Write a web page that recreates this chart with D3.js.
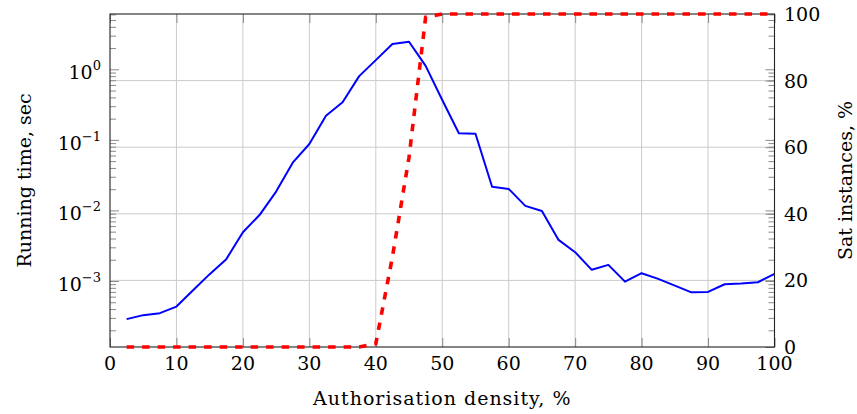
<!DOCTYPE html>
<html>
<head>
<meta charset="utf-8">
<script src="https://cdn.jsdelivr.net/npm/d3@7"></script>
<style>
  body { margin: 0; background: #fff; }
</style>
</head>
<body>
<div id="chart"></div>
<script>
const density = [2.5, 5, 7.5, 10, 12.5, 15, 17.5, 20, 22.5, 25, 27.5, 30, 32.5, 35, 37.5, 40,
  42.5, 45, 47.5, 50, 52.5, 55, 57.5, 60, 62.5, 65, 67.5, 70, 72.5, 75, 77.5, 80,
  82.5, 85, 87.5, 90, 92.5, 95, 97.5, 100];

// running time, sec (left, log)
const runTime = [2.88e-4, 3.28e-4, 3.5e-4, 4.34e-4, 7.4e-4, 1.25e-3, 2.04e-3, 4.91e-3,
  8.6e-3, 0.0185, 0.0475, 0.0875, 0.22, 0.341, 0.8, 1.35,
  2.28, 2.46, 1.12, 0.367, 0.124, 0.122, 0.0217, 0.0202,
  0.0116, 9.8e-3, 3.82e-3, 2.56e-3, 1.44e-3, 1.69e-3, 9.8e-4, 1.29e-3,
  1.07e-3, 8.6e-4, 6.9e-4, 7.0e-4, 9.0e-4, 9.2e-4, 9.6e-4, 1.26e-3];

// sat instances, % (right)
const satPct = [0, 0, 0, 0, 0, 0, 0, 0, 0, 0, 0, 0, 0, 0, 0, 1,
  27, 57, 99, 100, 100, 100, 100, 100, 100, 100, 100, 100, 100, 100, 100, 100,
  100, 100, 100, 100, 100, 100, 100, 100];

const xTicks = [0, 10, 20, 30, 40, 50, 60, 70, 80, 90, 100];
const logExponents = [-3, -2, -1, 0];
const rightTicks = [0, 20, 40, 60, 80, 100];

const width = 857;
const height = 414;
const plotL = 110, plotR = 774.5, plotT = 14, plotB = 347;
const serif = "'DejaVu Serif', 'Liberation Serif', serif";

const svg = d3.select("#chart")
  .append("svg")
  .attr("width", width)
  .attr("height", height)
  .style("font-family", serif);

const x = d3.scaleLinear().domain([0, 100]).range([plotL, plotR]);
const yLog = d3.scaleLog().domain([1.16e-4, 6.08]).range([plotB, plotT]);
const yPct = d3.scaleLinear().domain([0, 100]).range([plotB, plotT]);

const majorLog = logExponents.map(e => Math.pow(10, e));
const minorLog = yLog.ticks().filter(v => Math.abs(Math.log10(v) - Math.round(Math.log10(v))) > 1e-6);

// grid
const grid = svg.append("g").attr("stroke", "#cbcbcb").attr("stroke-width", 1);
grid.selectAll(".gx")
  .data(xTicks.slice(1, -1))
  .enter()
  .append("line")
  .attr("x1", d => x(d)).attr("x2", d => x(d))
  .attr("y1", plotT).attr("y2", plotB);
grid.selectAll(".gy")
  .data(rightTicks.slice(1, -1))
  .enter()
  .append("line")
  .attr("x1", plotL).attr("x2", plotR)
  .attr("y1", d => yPct(d)).attr("y2", d => yPct(d));

// ticks (inward, gray)
function tickStyle(g) {
  g.select(".domain").remove();
  g.selectAll(".tick line").attr("stroke", "#8a8a8a").attr("stroke-width", 1);
  g.selectAll(".tick text").remove();
}
svg.append("g").attr("transform", `translate(0,${plotB})`)
  .call(d3.axisTop(x).tickValues(xTicks).tickSize(9)).call(tickStyle);
svg.append("g").attr("transform", `translate(0,${plotT})`)
  .call(d3.axisBottom(x).tickValues(xTicks).tickSize(9)).call(tickStyle);
svg.append("g").attr("transform", `translate(${plotL},0)`)
  .call(d3.axisRight(yLog).tickValues(majorLog).tickSize(9)).call(tickStyle);
svg.append("g").attr("transform", `translate(${plotL},0)`)
  .call(d3.axisRight(yLog).tickValues(minorLog).tickSize(6)).call(tickStyle);
svg.append("g").attr("transform", `translate(${plotR},0)`)
  .call(d3.axisLeft(yLog).tickValues(majorLog).tickSize(9)).call(tickStyle);
svg.append("g").attr("transform", `translate(${plotR},0)`)
  .call(d3.axisLeft(yLog).tickValues(minorLog).tickSize(6)).call(tickStyle);
svg.append("g").attr("transform", `translate(${plotR},0)`)
  .call(d3.axisLeft(yPct).tickValues(rightTicks).tickSize(9)).call(tickStyle);

// running time line
const timeLine = d3.line()
  .x((d, i) => x(density[i]))
  .y(d => yLog(d));
svg.append("path")
  .datum(runTime)
  .attr("d", timeLine)
  .attr("fill", "none")
  .attr("stroke", "#0000ff")
  .attr("stroke-width", 2)
  .attr("stroke-linejoin", "round");

// frame
svg.append("rect")
  .attr("x", plotL).attr("y", plotT)
  .attr("width", plotR - plotL).attr("height", plotB - plotT)
  .attr("fill", "none")
  .attr("stroke", "#222")
  .attr("stroke-width", 1.1);

// sat line
const satLine = d3.line()
  .x((d, i) => x(density[i]))
  .y(d => yPct(d));
svg.append("path")
  .datum(satPct)
  .attr("d", satLine)
  .attr("fill", "none")
  .attr("stroke", "#ff0000")
  .attr("stroke-width", 3.6)
  .attr("stroke-dasharray", "7.5,8");

// tick labels
svg.append("g")
  .selectAll("text")
  .data(xTicks)
  .enter()
  .append("text")
  .attr("x", d => x(d))
  .attr("y", 370)
  .attr("text-anchor", "middle")
  .style("font-size", "19px")
  .text(d => d);

const logLabels = svg.append("g")
  .selectAll("text")
  .data(logExponents)
  .enter()
  .append("text")
  .attr("x", 101)
  .attr("y", d => yLog(Math.pow(10, d)) + 10)
  .attr("text-anchor", "end")
  .style("font-size", "19px");
logLabels.append("tspan").text("10");
logLabels.append("tspan")
  .attr("dy", -9)
  .style("font-size", "13px")
  .text(d => String(d).replace("-", "\u2212"));

svg.append("g")
  .selectAll("text")
  .data(rightTicks)
  .enter()
  .append("text")
  .attr("x", 784)
  .attr("y", d => yPct(d) + 7)
  .style("font-size", "19px")
  .text(d => d);

// axis labels
svg.append("text")
  .attr("x", (plotL + plotR) / 2)
  .attr("y", 405)
  .attr("text-anchor", "middle")
  .style("font-size", "19px")
  .style("letter-spacing", "1px")
  .text("Authorisation density, %");

svg.append("text")
  .attr("transform", `translate(31,${(plotT + plotB) / 2}) rotate(-90)`)
  .attr("text-anchor", "middle")
  .style("font-size", "19px")
  .text("Running time, sec");

svg.append("text")
  .attr("transform", `translate(852,${(plotT + plotB) / 2}) rotate(-90)`)
  .attr("text-anchor", "middle")
  .style("font-size", "19px")
  .text("Sat instances, %");
</script>
</body>
</html>
